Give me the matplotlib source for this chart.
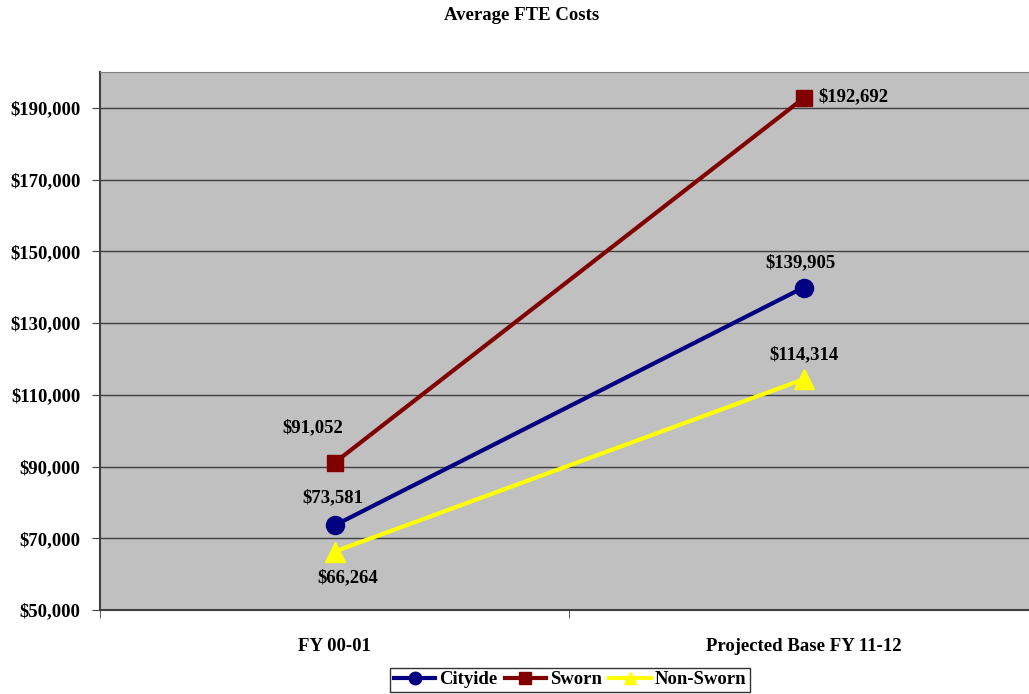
import matplotlib
matplotlib.use('Agg')
import matplotlib.pyplot as plt
from matplotlib.ticker import FuncFormatter

plt.rcParams['font.family'] = 'Liberation Serif'
plt.rcParams['font.weight'] = 'bold'

# data
periods = ['FY 00-01', 'Projected Base FY 11-12']
cityide = [73581, 139905]
sworn = [91052, 192692]
non_sworn = [66264, 114314]
yticks = list(range(50000, 200000, 20000))

fig = plt.figure(figsize=(10.29, 6.94), dpi=100)
ax = fig.add_axes([100 / 1029, 84 / 694, 938 / 1029, 538 / 694])
ax.set_facecolor('#C0C0C0')

x = range(len(periods))
ax.plot(x, cityide, color='#000080', lw=3, marker='o', ms=13, label='Cityide', zorder=3)
ax.plot(x, sworn, color='#800000', lw=3, marker='s', ms=11, label='Sworn', zorder=3)
ax.plot(x, non_sworn, color='#FFFF00', lw=3, marker='^', ms=14, label='Non-Sworn', zorder=3)

# value labels (offsets in pixels)
labels = [
    (0, cityide[0], -2, 28, 'center'),
    (1, cityide[1], -3, 25, 'center'),
    (0, sworn[0], -22, 35, 'center'),
    (1, sworn[1], 15, 1, 'left'),
    (0, non_sworn[0], 13, -26, 'center'),
    (1, non_sworn[1], 0, 25, 'center'),
]
for xi, v, dx, dy, ha in labels:
    ax.annotate(f'${v:,}', (xi, v), xytext=(dx, dy), textcoords='offset pixels',
                ha=ha, va='center', fontsize=13.5, fontweight='bold')

ax.set_ylim(50000, 200000)
ax.set_xlim(-0.5, 1.5)
ax.set_yticks(yticks)
ax.yaxis.set_major_formatter(FuncFormatter(lambda v, p: f'${v:,.0f}'))
ax.grid(axis='y', color='#404040', lw=1)
ax.set_axisbelow(True)

ax.set_xticks(list(x))
ax.set_xticklabels(periods)
ax.set_xticks([-0.5, 0.5, 1.5], minor=True)
ax.tick_params(axis='x', which='major', length=0, pad=20, labelsize=13.5)
ax.tick_params(axis='x', which='minor', length=6, color='#404040', direction='out')
ax.tick_params(axis='y', length=6, color='#404040', labelsize=13.5, pad=8)

for s in ['left', 'bottom']:
    ax.spines[s].set_color('#404040')
    ax.spines[s].set_linewidth(1.5)
ax.spines['top'].set_color('#808080')
ax.spines['right'].set_visible(False)

fig.text(522 / 1029, 1 - 15 / 694, 'Average FTE Costs', ha='center', va='center',
         fontsize=13.5, fontweight='bold')

leg = fig.legend(loc='lower center', bbox_to_anchor=(570 / 1029, 0.0), ncol=3,
                 fontsize=13.5, frameon=True, fancybox=False, borderpad=0.2,
                 handlelength=2.2, columnspacing=0.4, handletextpad=0.2,
                 borderaxespad=0.1)
leg.get_frame().set_edgecolor('black')
leg.get_frame().set_linewidth(1)
for h in leg.legend_handles:
    h.set_markersize(9)

fig.savefig('out.png', dpi=100)
